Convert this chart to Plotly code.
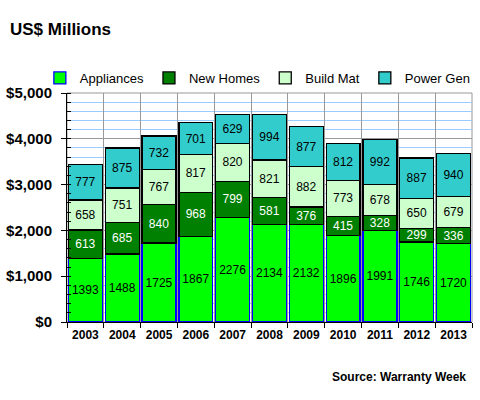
import plotly.graph_objects as go

years = ["2003", "2004", "2005", "2006", "2007", "2008", "2009", "2010", "2011", "2012", "2013"]
appliances = [1393, 1488, 1725, 1867, 2276, 2134, 2132, 1896, 1991, 1746, 1720]
new_homes = [613, 685, 840, 968, 799, 581, 376, 415, 328, 299, 336]
build_mat = [658, 751, 767, 817, 820, 821, 882, 773, 678, 650, 679]
power_gen = [777, 875, 732, 701, 629, 994, 877, 812, 992, 887, 940]

series = [
    ("Appliances", appliances, "#00FF00", "#0000FF", "black"),
    ("New Homes", new_homes, "#008000", "black", "white"),
    ("Build Mat", build_mat, "#CCFFCC", "black", "black"),
    ("Power Gen", power_gen, "#33CCCC", "black", "black"),
]

fig = go.Figure()
for name, vals, color, line, tcolor in series:
    fig.add_trace(go.Bar(
        x=years, y=vals, name=name,
        marker=dict(color=color, line=dict(color=line, width=1.3)),
        text=[str(v) for v in vals], texttemplate="%{text}",
        textposition="inside", insidetextanchor="middle", textangle=0,
        textfont=dict(family="Arial, Liberation Sans", size=12, color=tcolor),
    ))

fig.update_layout(
    barmode="stack", bargap=0.08,
    width=480, height=400,
    paper_bgcolor="white", plot_bgcolor="white",
    margin=dict(l=67, r=8, t=93, b=78, autoexpand=False),
    font=dict(family="Arial, Liberation Sans", color="black"),
    uniformtext=dict(minsize=12, mode="show"),
    showlegend=True,
    legend=dict(orientation="h", x=-0.067, y=1.0, xanchor="left", yanchor="bottom",
                font=dict(size=13), traceorder="normal", itemwidth=30,
                tracegroupgap=0, borderwidth=0, bgcolor="rgba(0,0,0,0)"),
    annotations=[
        dict(text="<b>US$ Millions</b>", xref="paper", yref="paper", x=-0.145, y=1.0,
             xanchor="left", yanchor="bottom", yshift=52, showarrow=False,
             font=dict(size=17)),
        dict(text="<b>Source: Warranty Week</b>", xref="paper", yref="paper", x=0.99, y=0,
             xanchor="right", yanchor="top", yshift=-46, showarrow=False,
             font=dict(size=12)),
    ],
)

fig.update_xaxes(
    type="category", tickson="boundaries", showgrid=True, gridcolor="#999999", gridwidth=1,
    ticks="outside", ticklen=5, tickcolor="black", showline=True, linecolor="black",
    linewidth=1, tickfont=dict(size=12), ticklabelstandoff=2,
    tickprefix="<b>", ticksuffix="</b>", mirror=False,
)
fig.update_yaxes(
    range=[0, 5000], dtick=1000, tickformat="$,.0f", tickprefix="<b>", ticksuffix="</b>",
    showgrid=True, gridcolor="#999999", gridwidth=1,
    ticks="outside", ticklen=5, tickcolor="black", showline=True, linecolor="black",
    linewidth=1, tickfont=dict(size=15), ticklabelstandoff=6,
    minor=dict(dtick=200, ticks="inside", ticklen=4, tickcolor="black",
               showgrid=True, gridcolor="#99CCFF", gridwidth=1),
    zeroline=False, automargin=False,
)
fig.add_shape(type="rect", xref="paper", yref="paper", x0=0, x1=1, y0=0, y1=1,
              line=dict(color="#999999", width=1), layer="below")

fig.write_html("out.html", config={"displayModeBar": False},
               post_script="document.body.style.margin='0';document.body.style.overflow='hidden';")
